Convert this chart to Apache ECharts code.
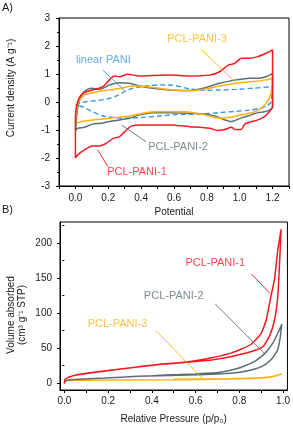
<!DOCTYPE html>
<html><head><meta charset="utf-8">
<script src="https://cdn.jsdelivr.net/npm/echarts@6/dist/echarts.min.js"></script>
<style>html,body{margin:0;padding:0;background:#fff}#c{width:293px;height:427px}</style>
</head><body><div id="c"></div>
<script>
// ---------- Panel A: cyclic voltammetry (potential, current density) ----------
const cvPcl1 = [[0,-2.0],[0,-1.2],[0,-0.52],[0.014,0.01],[0.045,0.31],[0.105,0.43],[0.167,0.55],[0.207,0.79],[0.238,0.93],[0.268,0.9],[0.319,0.99],[0.39,0.93],[0.47,0.95],[0.57,0.96],[0.695,0.93],[0.817,0.96],[0.878,1.08],[0.93,1.32],[0.97,1.38],[1.01,1.56],[1.06,1.56],[1.11,1.62],[1.16,1.74],[1.2,1.86],
  [1.2,0.6],[1.2,-0.17],[1.18,-0.35],[1.15,-0.52],[1.11,-0.64],[1.07,-0.70],[1.03,-0.79],[1.01,-0.98],[0.97,-0.98],[0.95,-0.90],[0.91,-0.98],[0.868,-1.02],[0.817,-0.94],[0.695,-0.88],[0.573,-0.82],[0.41,-0.82],[0.34,-0.86],[0.30,-1.06],[0.268,-1.24],[0.23,-1.30],[0.187,-1.48],[0.146,-1.57],[0.105,-1.57],[0.055,-1.71],[0.014,-1.89],[0,-2.0]];
const cvPcl2 = [[0,-1.0],[0.014,-0.17],[0.03,0.13],[0.055,0.37],[0.096,0.49],[0.146,0.45],[0.207,0.61],[0.268,0.69],[0.33,0.67],[0.39,0.57],[0.47,0.49],[0.573,0.43],[0.695,0.41],[0.776,0.49],[0.878,0.67],[0.98,0.79],[1.06,0.85],[1.12,0.85],[1.16,0.90],[1.2,1.02],
  [1.2,-0.2],[1.18,-0.29],[1.15,-0.35],[1.11,-0.38],[1.07,-0.46],[1.02,-0.55],[0.98,-0.64],[0.95,-0.70],[0.91,-0.64],[0.858,-0.52],[0.776,-0.43],[0.695,-0.40],[0.573,-0.38],[0.47,-0.38],[0.39,-0.46],[0.33,-0.58],[0.268,-0.64],[0.207,-0.70],[0.157,-0.76],[0.105,-0.79],[0.055,-0.90],[0.014,-0.94],[0,-1.02]];
const cvPcl3 = [[0,-0.76],[0.01,-0.17],[0.024,0.07],[0.055,0.25],[0.105,0.33],[0.167,0.40],[0.23,0.45],[0.29,0.51],[0.35,0.57],[0.43,0.55],[0.51,0.49],[0.59,0.43],[0.695,0.40],[0.776,0.45],[0.878,0.57],[0.98,0.67],[1.08,0.73],[1.16,0.79],[1.2,0.85],
  [1.195,0.45],[1.18,0.13],[1.16,-0.05],[1.13,-0.23],[1.09,-0.35],[1.04,-0.43],[0.98,-0.50],[0.93,-0.55],[0.878,-0.58],[0.817,-0.50],[0.736,-0.40],[0.654,-0.35],[0.573,-0.35],[0.49,-0.35],[0.41,-0.40],[0.33,-0.50],[0.248,-0.55],[0.167,-0.61],[0.105,-0.64],[0.045,-0.69],[0,-0.76]];
const cvLinear = [[0,-0.12],[0.024,-0.05],[0.065,0.01],[0.126,0.05],[0.187,0.10],[0.248,0.21],[0.30,0.37],[0.35,0.49],[0.43,0.57],[0.51,0.61],[0.59,0.60],[0.695,0.47],[0.776,0.42],[0.878,0.43],[0.98,0.45],[1.08,0.49],[1.2,0.55],
  [1.19,0.0],[1.16,-0.15],[1.12,-0.23],[1.06,-0.29],[0.98,-0.33],[0.878,-0.38],[0.776,-0.42],[0.675,-0.44],[0.59,-0.46],[0.51,-0.50],[0.41,-0.55],[0.31,-0.58],[0.23,-0.55],[0.167,-0.50],[0.105,-0.35],[0.045,-0.17],[0,-0.12]];
const potTickLabels = ['0.0','0.2','0.4','0.6','0.8','1.0','1.2'];

// ---------- Panel B: N2 isotherms (relative pressure, volume) ----------
const isoPcl1 = [[0,-1],[0.003,5],[0.018,8],[0.048,11],[0.109,14],[0.199,17.6],[0.335,22.8],[0.456,27.2],[0.524,28.5],[0.584,30.5],[0.674,33],[0.765,38],[0.855,45],[0.908,52],[0.938,67],[0.961,90],[0.976,124],[0.984,171],[0.991,219],
  [0.976,190],[0.961,148],[0.946,126],[0.923,90],[0.90,71],[0.852,55],[0.765,43],[0.674,36],[0.584,31],[0.524,28.8],[0.456,27.6],[0.335,23],[0.2,18],[0.109,14.3],[0.048,11.2],[0.018,8.2]];
const isoPcl2 = [[0,0.5],[0.003,3],[0.01,4],[0.048,5],[0.184,7],[0.335,9.5],[0.524,11],[0.705,13],[0.795,15],[0.871,20],[0.916,26],[0.953,36],[0.976,48],[0.988,67],[0.994,84],
  [0.976,71],[0.953,57],[0.916,42],[0.871,31],[0.795,21],[0.705,15],[0.60,13],[0.524,12],[0.4,10.5]];
const isoPcl3 = [[0,1],[0.005,3],[0.05,4],[0.5,4.7],[0.75,5.7],[0.9,7],[0.961,9.5],[0.994,13],[0.96,10],[0.9,7.5],[0.75,6.2],[0.5,5.3]];
const presTickLabels = [0, 0.2, 0.4, 0.6, 0.8, 1.0];
const presTicks = [0,0.1,0.2,0.3,0.4,0.5,0.6,0.7,0.8,0.9,1.0];
const volTickLabels = [0, 50, 100, 150, 200];
const volMinorTicks = [25, 75, 125, 175, 225];

// ---------- annotations (text, anchor in data units, leader line ends) ----------
const annA = [
  {name:'PCL-PANI-3', at:[0.74,2.25], line:[[0.77,1.86],[0.98,0.67]], key:'orange'},
  {name:'linear PANI', at:[0.17,1.5], line:[[0.167,1.14],[0.30,0.40]], key:'blue'},
  {name:'PCL-PANI-2', at:[0.625,-1.6], line:[[0.28,-0.82],[0.43,-1.42]], key:'grey'},
  {name:'PCL-PANI-1', at:[0.375,-2.49], line:[[0.136,-1.71],[0.197,-2.31]], key:'red'}
];
const annB = [
  {name:'PCL-PANI-1', at:[0.69,171], line:[[0.855,156],[0.94,128]], key:'red'},
  {name:'PCL-PANI-2', at:[0.50,124], line:[[0.69,113],[0.916,42]], key:'grey'},
  {name:'PCL-PANI-3', at:[0.243,85], line:[[0.418,75],[0.63,7]], key:'orange'}
];

const COL = {red:'#f41820', grey:'#5b6f79', orange:'#fdb213', blue:'#3a95e8'};
const FONT = '"Liberation Sans", Arial, sans-serif';
const TXT = '#1a1a1a';

function lineSeries(data, color, xi, opts) {
  return Object.assign({
    type:'line', data:data, xAxisIndex:xi, yAxisIndex:xi, showSymbol:false, symbol:'none',
    smooth:0.25, lineStyle:{color:color, width:1.5}, silent:true, animation:false, z:3
  }, opts || {});
}
function annSeries(list, xi) {
  const out = [];
  list.forEach(a => {
    out.push({type:'line', data:a.line, xAxisIndex:xi, yAxisIndex:xi, symbol:'none', showSymbol:false,
      lineStyle:{color:COL[a.key], width:0.9}, silent:true, animation:false, z:4});
    out.push({type:'scatter', data:[{value:a.at, name:a.name}], xAxisIndex:xi, yAxisIndex:xi,
      symbolSize:1, itemStyle:{color:'rgba(0,0,0,0)'}, silent:true, animation:false, z:5,
      label:{show:true, position:'inside', formatter:'{b}', color:COL[a.key], fontSize:11, fontFamily:FONT}});
  });
  return out;
}

const axisCommon = {
  axisLine:{show:true, onZero:false, lineStyle:{color:'#000', width:1}},
  axisTick:{show:true, inside:false, length:3, lineStyle:{color:'#000'}},
  splitLine:{show:false},
  axisLabel:{color:TXT, fontSize:10, fontFamily:FONT},
  nameTextStyle:{color:TXT, fontSize:10, fontFamily:FONT}
};

const option = {
  backgroundColor:'#fff',
  animation:false,
  grid:[
    {left:59, top:18, width:230, height:168, show:true, borderColor:'#000', borderWidth:1, backgroundColor:'transparent'},
    {left:60, top:222, width:230, height:168, show:true, borderColor:'#000', borderWidth:1, backgroundColor:'transparent'}
  ],
  xAxis:[
    Object.assign({}, axisCommon, {
      gridIndex:0, type:'value', min:-0.1, max:1.3, interval:0.1,
      axisLabel:Object.assign({}, axisCommon.axisLabel, {margin:7, formatter:v => {
        const k = Math.round(v*10);
        const s = (k/10).toFixed(1);
        return potTickLabels.indexOf(s) >= 0 ? s : '';
      }}),
      name:'Potential', nameLocation:'middle', nameGap:21
    }),
    Object.assign({}, axisCommon, {
      gridIndex:1, type:'value', min:-0.02, max:1.02,
      axisTick:Object.assign({}, axisCommon.axisTick, {customValues:presTicks}),
      axisLabel:Object.assign({}, axisCommon.axisLabel, {margin:6, customValues:presTickLabels, formatter:v => v.toFixed(1)}),
      name:'Relative Pressure (p/p\u2080)', nameLocation:'middle', nameGap:24
    })
  ],
  yAxis:[
    Object.assign({}, axisCommon, {
      gridIndex:0, type:'value', min:-3, max:3, interval:1,
      minorTick:{show:true, splitNumber:2, length:2, lineStyle:{color:'#000'}},
      axisLabel:Object.assign({}, axisCommon.axisLabel, {margin:9})
    }),
    Object.assign({}, axisCommon, {
      gridIndex:1, type:'value', min:-10, max:230,
      axisTick:Object.assign({}, axisCommon.axisTick, {customValues:volTickLabels}),
      axisLabel:Object.assign({}, axisCommon.axisLabel, {margin:8, customValues:volTickLabels})
    }),
    Object.assign({}, axisCommon, {
      gridIndex:1, type:'value', min:-10, max:230, position:'left',
      axisLine:{show:false},
      axisTick:{show:true, inside:false, length:2, lineStyle:{color:'#000'}, customValues:volMinorTicks},
      axisLabel:{show:false}
    })
  ],
  series:[
    lineSeries(cvLinear, COL.blue, 0, {lineStyle:{color:COL.blue, width:1.4, type:[5,3]}}),
    lineSeries(cvPcl2, COL.grey, 0),
    lineSeries(cvPcl3, COL.orange, 0),
    lineSeries(cvPcl1, COL.red, 0),
    lineSeries(isoPcl3, COL.orange, 1, {smooth:0.15}),
    lineSeries(isoPcl2, COL.grey, 1, {smooth:0.15}),
    lineSeries(isoPcl1, COL.red, 1, {smooth:0.15})
  ].concat(annSeries(annA, 0), annSeries(annB, 1)),
  graphic:[
    {type:'text', x:2, y:2, style:{text:'A)', fill:TXT, font:'11px '+FONT}},
    {type:'text', x:2, y:204, style:{text:'B)', fill:TXT, font:'11px '+FONT}},
    {type:'text', x:11, y:88, rotation:Math.PI/2,
      style:{text:'Current density (A g\u207B\u00B9)', fill:TXT, font:'10px '+FONT, align:'center', verticalAlign:'middle'}},
    {type:'text', x:17, y:315, rotation:Math.PI/2,
      style:{text:'Volume absorbed\n(cm\u00B3 g\u207B\u00B9 STP)', fill:TXT, font:'10px '+FONT, align:'center', verticalAlign:'middle', lineHeight:11}}
  ]
};

const chart = echarts.init(document.getElementById('c'), null, {renderer:'canvas'});
chart.setOption(option);
</script>
</body></html>
